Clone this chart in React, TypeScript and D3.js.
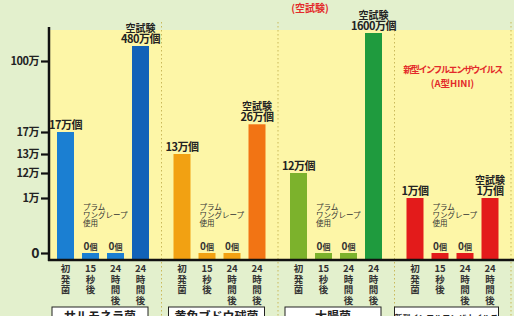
import React, { useEffect, useRef } from 'react';
import * as d3 from 'd3';

// values are in 万個 (x10,000 cells)
const groups = ['サルモネラ菌', '黄色ブドウ球菌', '大腸菌', '新型インフルエンザウイルス'];
const timeKeys = ['initial', 'sec15', 'hour24', 'blank24'];
const timeLabels = [['初', '発', '菌'], ['15', '秒', '後'], ['24', '時', '間', '後'], ['24', '時', '間', '後']];
const salmonella = [17, 0, 0, 480];
const staph = [13, 0, 0, 26];
const ecoli = [12, 0, 0, 1600];
const influenza = [1, 0, 0, 1];
const seriesValues = [salmonella, staph, ecoli, influenza];
const firstColors = ['#1b7fd2', '#f2a112', '#7cb22c', '#e31b1b'];
const blankColors = ['#1262b8', '#f27414', '#1f9b3e', '#e31b1b'];
const tickValues = [0, 1, 12, 13, 17, 100];
const noteLines = ['プラム', 'ワングレープ', '使用'];
// broken axis, piecewise
const scaleDomain = [0, 1, 12, 13, 17, 100, 480, 1600];

const W = 514;
const H = 316;
const FONT = '"Noto Sans CJK JP", "Noto Sans", sans-serif';

export default function App() {
  const axisRef = useRef<SVGGElement>(null);

  const axisX = 49;
  const baseY = 260;
  const y = d3.scaleLinear().domain(scaleDomain).range([253, 198, 173, 154, 132, 61, 46, 33]);
  const gx = d3.scaleBand().domain(groups).range([axisX, W + 1]).padding(0);
  const bx = d3.scaleBand().domain(timeKeys).range([8, 100]).paddingInner(0.32).paddingOuter(0);

  useEffect(() => {
    const g = d3.select(axisRef.current);
    g.selectAll('*').remove();
    g.call(
      d3.axisLeft(y)
        .tickValues(tickValues)
        .tickSize(7)
        .tickPadding(2)
        .tickFormat((d: any) => (d === 0 ? '0' : d + '万'))
    );
    g.select('.domain').remove();
    g.selectAll('.tick line').attr('stroke', '#111').attr('stroke-width', 2.2);
    g.selectAll('.tick text')
      .attr('fill', '#222')
      .attr('font-family', FONT)
      .attr('font-weight', 'bold')
      .attr('font-size', 11)
      .attr('letter-spacing', -0.5);
    g.selectAll('.tick')
      .filter((d: any) => d === 0)
      .select('text')
      .attr('font-size', 14);
  }, []);

  return (
    <div style={{ position: 'absolute', left: 0, top: 0 }}>
      <svg width={W} height={H} style={{ display: 'block' }}>
        <rect x={0} y={0} width={W} height={H} fill="#e3f0cd" />
        <rect x={axisX} y={30} width={W - axisX} height={baseY - 30} fill="#fdf6a7" />

        {/* title fragment */}
        <text x={310} y={12} textAnchor="middle" fill="#e32a2a" fontFamily={FONT} fontWeight="bold" fontSize={10}>
          (空試験)
        </text>

        {/* dotted separators */}
        {groups.map((gname) => {
          const sx = (gx(gname) as number) + gx.bandwidth() - 4;
          return (
            <line key={'sep' + gname} x1={sx} x2={sx} y1={22} y2={H} stroke="#c9b95a" strokeWidth={1} strokeDasharray="1.5,2.5" />
          );
        })}

        {groups.map((gname, gi) => {
          const x0 = gx(gname) as number;
          const vals = seriesValues[gi];
          return (
            <g key={gname}>
              {vals.map((v, i) => {
                const key = timeKeys[i];
                const bxs = x0 + (bx(key) as number);
                const top = v === 0 ? y(0) : y(v);
                const color = i === 3 ? blankColors[gi] : firstColors[gi];
                const cx = bxs + bx.bandwidth() / 2;
                return (
                  <g key={key}>
                    <rect x={bxs} y={top} width={bx.bandwidth()} height={baseY - top} fill={color} />
                    {v === 0 ? (
                      <text x={cx} y={top - 3} textAnchor="middle" fill="#333" fontFamily={FONT} fontWeight="bold" fontSize={10}>
                        0<tspan fontSize={8}>個</tspan>
                      </text>
                    ) : i === 3 ? (
                      <text x={cx} y={top - 14} textAnchor="middle" fill="#222" fontFamily={FONT} fontWeight="bold" fontSize={10}>
                        空試験
                        <tspan x={cx} dy={11} fontSize={11} letterSpacing={-0.5}>{v}万個</tspan>
                      </text>
                    ) : (
                      <text x={cx} y={top - 3} textAnchor="middle" fill="#222" fontFamily={FONT} fontWeight="bold" fontSize={11} letterSpacing={-0.5}>
                        {v}万個
                      </text>
                    )}
                    <text x={cx} y={272} textAnchor="middle" fill="#333" fontFamily={FONT} fontWeight="bold" fontSize={9.5}>
                      {timeLabels[i].map((ch, ci) => (
                        <tspan key={ci} x={cx} dy={ci === 0 ? 0 : 10.5}>{ch}</tspan>
                      ))}
                    </text>
                  </g>
                );
              })}
              {/* plum grape note */}
              <text x={x0 + (bx('sec15') as number) + 1} y={210} fill="#333" fontFamily={FONT} fontSize={7.5}>
                {noteLines.map((t, li) => (
                  <tspan key={t} x={x0 + (bx('sec15') as number) + 1} dy={li === 0 ? 0 : 8}>{t}</tspan>
                ))}
              </text>
              {/* group name box */}
              <rect x={gi === 3 ? x0 - 4 : x0 + 3} y={307} width={gi === 3 ? 104 : 96} height={20} fill="#fff" stroke="#222" strokeWidth={1} />
              <text x={gi === 3 ? x0 + 48 : x0 + 51} y={321} textAnchor="middle" fill="#222" fontFamily={FONT} fontWeight="bold" fontSize={gi === 3 ? 8 : 12}>
                {gname}
              </text>
            </g>
          );
        })}

        {/* influenza label inside plot */}
        <text x={(gx(groups[3]) as number) + 54} y={73} textAnchor="middle" fill="#e32a2a" fontFamily={FONT} fontWeight="bold" fontSize={9} letterSpacing={-1.4}>
          新型インフルエンザウイルス
        </text>
        <text x={(gx(groups[3]) as number) + 54} y={87} textAnchor="middle" fill="#e32a2a" fontFamily={FONT} fontWeight="bold" fontSize={9.5}>
          (A型HINI)
        </text>

        {/* axes */}
        <line x1={axisX} x2={axisX} y1={27} y2={baseY + 1} stroke="#111" strokeWidth={2.5} />
        <line x1={axisX - 1} x2={W} y1={baseY} y2={baseY} stroke="#111" strokeWidth={2.5} />
        <g ref={axisRef} transform={`translate(${axisX - 1},0)`} />
      </svg>
    </div>
  );
}
